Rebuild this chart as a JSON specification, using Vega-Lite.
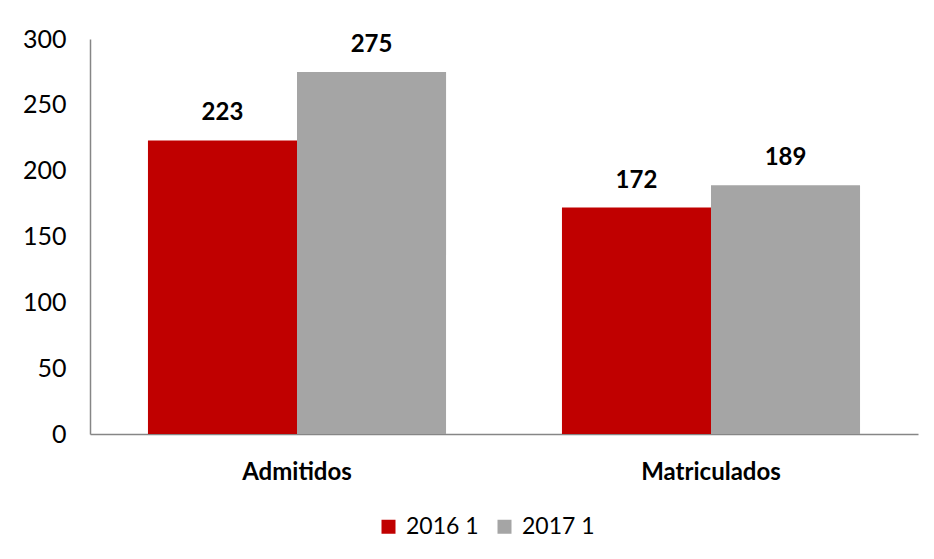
{
  "$schema": "https://vega.github.io/schema/vega-lite/v6.json",
  "width": 828,
  "height": 395,
  "autosize": {"type": "none"},
  "padding": {"left": 90, "top": 39, "right": 16, "bottom": 125},
  "background": "white",
  "config": {
    "font": "Lato",
    "view": {"stroke": null},
    "axis": {"domainColor": "#868686", "domainWidth": 1.5, "ticks": false, "grid": false, "labelColor": "#000000", "labelFont": "Lato", "labelFontSize": 25, "title": null}
  },
  "data": {
    "values": [
      {"categoria": "Admitidos", "periodo": "2016 1", "valor": 223},
      {"categoria": "Admitidos", "periodo": "2017 1", "valor": 275},
      {"categoria": "Matriculados", "periodo": "2016 1", "valor": 172},
      {"categoria": "Matriculados", "periodo": "2017 1", "valor": 189}
    ]
  },
  "encoding": {
    "x": {
      "field": "categoria", "type": "nominal", "sort": null,
      "scale": {"paddingInner": 0.28, "paddingOuter": 0.14},
      "axis": {"labelAngle": 0, "labelFontWeight": "bold", "labelPadding": 26, "labelFontSize": 24}
    },
    "xOffset": {"field": "periodo", "type": "nominal", "sort": null, "scale": {"paddingInner": 0, "paddingOuter": 0}},
    "y": {
      "field": "valor", "type": "quantitative",
      "scale": {"domain": [0, 300], "nice": false},
      "axis": {"values": [0, 50, 100, 150, 200, 250, 300], "labelPadding": 24, "domain": true}
    }
  },
  "layer": [
    {
      "mark": {"type": "bar"},
      "encoding": {
        "color": {
          "field": "periodo", "type": "nominal",
          "scale": {"domain": ["2016 1", "2017 1"], "range": ["#C00000", "#A5A5A5"]},
          "legend": {"orient": "none", "legendX": 287, "legendY": 476, "direction": "horizontal", "title": null, "symbolType": "square", "symbolSize": 196, "symbolStrokeWidth": 0, "labelFontSize": 23, "labelFont": "Lato", "labelColor": "#000000", "labelOffset": 6, "columnPadding": 14, "padding": 0}
        }
      }
    },
    {
      "mark": {"type": "text", "baseline": "bottom", "dy": -15, "fontSize": 24, "fontWeight": "bold", "font": "Lato", "color": "#000000"},
      "encoding": {
        "text": {"field": "valor", "type": "quantitative"}
      }
    }
  ]
}
